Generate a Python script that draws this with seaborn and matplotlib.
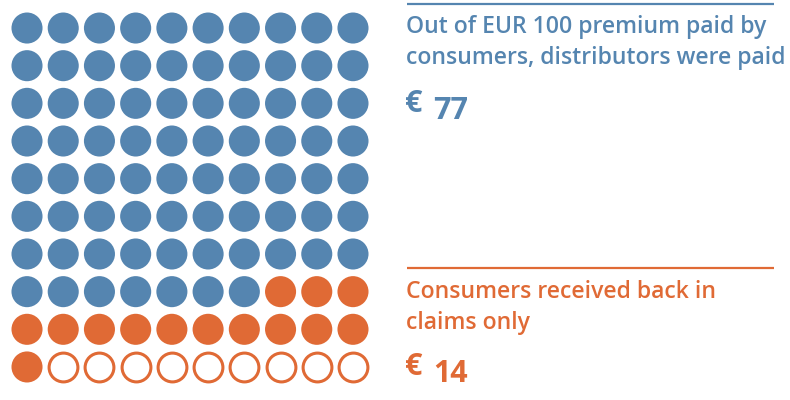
import pandas as pd
import matplotlib.pyplot as plt
import seaborn as sns

# waffle: 100 EUR of premium, one dot per euro
categories = ["distributors", "claims", "rest"]
counts = [77, 14, 9]
n_cols = 10

blue = "#5585b0"
orange = "#e06a35"

title_top = ["Out of EUR 100 premium paid by", "consumers, distributors were paid"]
value_top = "77"
title_bottom = ["Consumers received back in", "claims only"]
value_bottom = "14"

sns.set_theme(style="white")
plt.rcParams["font.family"] = ["Open Sans", "DejaVu Sans"]

cat_list = []
for c, n in zip(categories, counts):
    cat_list += [c] * n
df = pd.DataFrame({"category": cat_list})
df["row"] = df.index // n_cols
df["col"] = df.index % n_cols

fig = plt.figure(figsize=(7.9, 4), dpi=100)
ax = fig.add_axes([8.9 / 790, (400 - 385.8) / 400, 362.2 / 790, 376.6 / 400])

filled = df[df["category"] != "rest"]
sns.scatterplot(
    data=filled, x="col", y="row", hue="category",
    palette={"distributors": blue, "claims": orange},
    s=500, linewidth=0, legend=False, ax=ax
)
sns.scatterplot(
    data=df[df["category"] == "rest"], x="col", y="row",
    color="white", edgecolor=orange, linewidth=2.2,
    s=430, legend=False, ax=ax
)
ax.set_xlim(-0.5, n_cols - 0.5)
ax.set_ylim(9.5, -0.5)
ax.axis("off")

# text panel in pixel coordinates
tx = fig.add_axes([0, 0, 1, 1])
tx.set_xlim(0, 790)
tx.set_ylim(400, 0)
tx.axis("off")
tx.patch.set_alpha(0)

fs = 16.6
tx.hlines(4, 407, 774, color=blue, lw=1.6)
tx.text(406, 33, title_top[0], color=blue, fontsize=fs, va="baseline", weight="semibold")
tx.text(406, 64, title_top[1], color=blue, fontsize=fs, va="baseline", weight="semibold")
tx.text(405, 112, "€", color=blue, fontsize=22, va="baseline", weight="bold")
tx.text(433, 119, value_top, color=blue, fontsize=22, va="baseline", weight="bold")

tx.hlines(268, 407, 774, color=orange, lw=1.6)
tx.text(406, 298, title_bottom[0], color=orange, fontsize=fs, va="baseline", weight="semibold")
tx.text(406, 329, title_bottom[1], color=orange, fontsize=fs, va="baseline", weight="semibold")
tx.text(405, 375, "€", color=orange, fontsize=22, va="baseline", weight="bold")
tx.text(433, 382, value_bottom, color=orange, fontsize=22, va="baseline", weight="bold")

fig.savefig("out.png", dpi=100)
